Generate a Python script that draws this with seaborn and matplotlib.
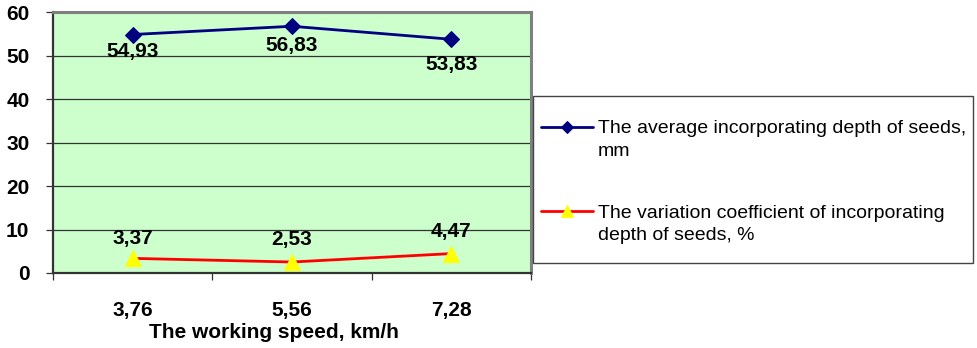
import matplotlib
matplotlib.use("Agg")
import matplotlib.pyplot as plt
from matplotlib.patches import Rectangle
import seaborn as sns
import pandas as pd

# Working speeds (category labels) and the two measured series
speeds = ["3,76", "5,56", "7,28"]
avg_depth = [54.93, 56.83, 53.83]
variation_coef = [3.37, 2.53, 4.47]
avg_label = "The average incorporating depth of seeds,\nmm"
var_label = "The variation coefficient of incorporating\ndepth of seeds, %"
x_title = "The working speed, km/h"
y_ticks = [0, 10, 20, 30, 40, 50, 60]

sns.set_style("white")
plt.rcParams["font.family"] = ["Liberation Sans", "DejaVu Sans"]
plt.rcParams["text.color"] = "black"
plt.rcParams["axes.labelcolor"] = "black"
plt.rcParams["xtick.labelcolor"] = "black"
plt.rcParams["ytick.labelcolor"] = "black"

df = pd.DataFrame({
    "speed": speeds * 2,
    "value": avg_depth + variation_coef,
    "series": [avg_label] * 3 + [var_label] * 3,
})

W, H = 978, 348
fig = plt.figure(figsize=(W / 100, H / 100), dpi=100)
ax = fig.add_axes([53 / W, 1 - 273 / H, 478 / W, 260.5 / H])
ax.set_facecolor("#CCFFCC")

sns.lineplot(
    data=df, x="speed", y="value", hue="series", style="series",
    palette={avg_label: "#000080", var_label: "#FF0000"},
    markers={avg_label: "D", var_label: "^"},
    dashes=False, linewidth=2, ax=ax, legend=False, sort=False,
)

# marker styling per series
lines = ax.get_lines()
lines[0].set_markerfacecolor("#000080")
lines[0].set_markeredgecolor("#000080")
lines[0].set_markersize(8.5)
lines[1].set_markerfacecolor("#FFFF00")
lines[1].set_markeredgecolor("#FFFF00")
lines[1].set_markersize(11)

ax.set_xlim(-0.5, 2.5)
ax.set_ylim(0, 60)
ax.set_yticks(y_ticks)
ax.set_yticklabels([str(t) for t in y_ticks], fontsize=15, fontweight="bold")
ax.yaxis.grid(True, color="#333333", linewidth=0.9)
ax.set_axisbelow(True)
ax.tick_params(axis="y", length=5, width=0.9, color="#333333", pad=12, left=True)

ax.set_xticks(range(len(speeds)))
ax.set_xticklabels(speeds, fontsize=15, fontweight="bold")
ax.set_xticks([-0.5, 0.5, 1.5, 2.5], minor=True)
ax.tick_params(axis="x", which="major", length=0, pad=20)
ax.tick_params(axis="x", which="minor", length=5, width=0.9, color="#333333", bottom=True)
ax.set_xlabel(x_title, fontsize=15, fontweight="bold", labelpad=0)
ax.xaxis.set_label_coords(0.462, -0.228)
ax.xaxis.label.set_va("center")
ax.set_ylabel("")

for side in ["top", "right"]:
    ax.spines[side].set_color("#808080")
    ax.spines[side].set_linewidth(2.2)
for side in ["left", "bottom"]:
    ax.spines[side].set_color("#333333")
    ax.spines[side].set_linewidth(1.6)

# value labels
avg_offsets = [-12.5, -13.5, -18.5]
var_offsets = [14.5, 16, 16]
for i, v in enumerate(avg_depth):
    ax.annotate(f"{v:.2f}".replace(".", ","), (i, v), xytext=(0, avg_offsets[i]),
                textcoords="offset points", ha="center", va="center",
                fontsize=15, fontweight="bold")
for i, v in enumerate(variation_coef):
    ax.annotate(f"{v:.2f}".replace(".", ","), (i, v), xytext=(0, var_offsets[i]),
                textcoords="offset points", ha="center", va="center",
                fontsize=15, fontweight="bold")

# legend box drawn as a figure-level rectangle, entries placed inside it
fig.patches.append(Rectangle((533 / W, 1 - 263 / H), 440 / W, 167 / H,
                             transform=fig.transFigure, facecolor="white",
                             edgecolor="#444444", linewidth=1.0, zorder=0))
leg = fig.legend(
    handles=lines, labels=[avg_label, var_label],
    loc="upper left", bbox_to_anchor=(541 / W, 1 - 120 / H),
    fontsize=14, frameon=False,
    handlelength=2.67, handletextpad=0.26, labelspacing=2.3, borderpad=0,
    borderaxespad=0,
)
for t in leg.get_texts():
    t.set_linespacing(1.45)
leg.legend_handles[0].set_markersize(6)
leg.legend_handles[1].set_markersize(9)
# align each legend symbol with the first line of its wrapped label
for column in leg._legend_handle_box.get_children():
    for entry in column.get_children():
        entry.align = "top"

fig.savefig("out.png", dpi=100)
